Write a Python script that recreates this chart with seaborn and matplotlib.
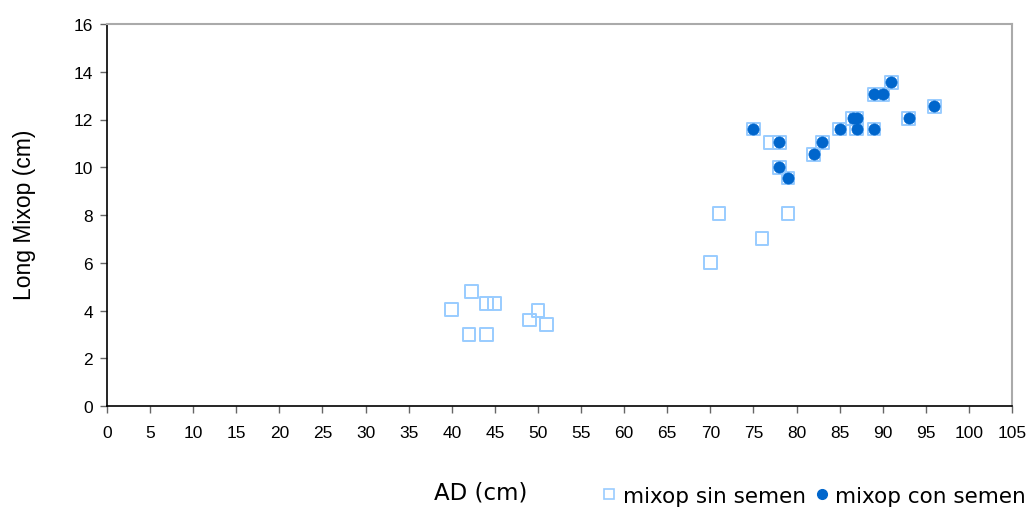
import matplotlib
matplotlib.use("Agg")
import matplotlib.pyplot as plt
import seaborn as sns
import pandas as pd
from matplotlib.lines import Line2D

# Points without seeds (squares only)
sin_x = [40, 42, 42.3, 44, 44, 45, 49, 50, 51, 70, 71, 76, 79, 77]
sin_y = [4.05, 3.0, 4.8, 4.3, 3.0, 4.3, 3.6, 4.0, 3.4, 6.0, 8.05, 7.0, 8.05, 11.05]

# Points with seeds (circles)
con_x = [75, 78, 78, 79, 82, 83, 85, 86.5, 87, 87, 89, 89, 90, 91, 93, 96]
con_y = [11.6, 11.05, 10.0, 9.55, 10.55, 11.05, 11.6, 12.05, 12.05, 11.6, 11.6, 13.05, 13.05, 13.55, 12.05, 12.55]

x_ticks = list(range(0, 106, 5))
y_ticks = list(range(0, 17, 2))

sns.set_theme(style="white")
plt.rcParams['font.family'] = ['Liberation Sans', 'DejaVu Sans']

# Square series covers all points (as in the original chart)
df_sq = pd.DataFrame({"AD": sin_x + con_x, "Long": sin_y + con_y})
df_ci = pd.DataFrame({"AD": con_x, "Long": con_y})

fig = plt.figure(figsize=(10.3, 5.1), dpi=100)
ax = fig.add_axes([107/1030, 1 - 407/510, (1012-107)/1030, (407-25)/510])

sns.scatterplot(data=df_sq, x="AD", y="Long", ax=ax, marker="s", s=85,
                facecolor="none", edgecolor="#99CCFF", linewidth=1.4, zorder=3)
sns.scatterplot(data=df_ci, x="AD", y="Long", ax=ax, marker="o", s=65,
                color="#0066CC", edgecolor="#0066CC", linewidth=0.5, zorder=4)

ax.set_xlim(0, 105)
ax.set_ylim(0, 16)
ax.set_xticks(x_ticks)
ax.set_yticks(y_ticks)
ax.tick_params(axis="both", which="major", direction="out", length=5, width=1,
               color="#666666", labelsize=12.5, labelcolor="black", pad=6)
ax.tick_params(axis="x", bottom=True, pad=9)
ax.tick_params(axis="y", left=True, pad=5)

for side in ["left", "bottom"]:
    ax.spines[side].set_color("black")
    ax.spines[side].set_linewidth(1.2)
for side in ["top", "right"]:
    ax.spines[side].set_color("#AAAAAA")
    ax.spines[side].set_linewidth(1.5)

ax.set_xlabel("")
ax.set_ylabel("")
fig.text(25/1030, 1 - 215/510, "Long Mixop (cm)", ha="center", va="center",
         rotation=90, fontsize=16.5, color="black")

fig.text(481/1030, 1 - 493/510, "AD (cm)", ha="center", va="center",
         fontsize=16.5, color="black", family=["DejaVu Sans"])

handles = [
    Line2D([], [], marker="s", linestyle="none", markersize=7,
           markerfacecolor="none", markeredgecolor="#99CCFF", markeredgewidth=1.2),
    Line2D([], [], marker="o", linestyle="none", markersize=7,
           markerfacecolor="#0066CC", markeredgecolor="#0066CC"),
]
leg = fig.legend(handles, ["mixop sin semen", "mixop con semen"], ncol=2,
                 loc="center", bbox_to_anchor=(813/1030, 1 - 497/510), frameon=False,
                 prop={"family": "DejaVu Sans", "size": 15.5}, handletextpad=0.2,
                 columnspacing=0.25, handlelength=0.9, borderaxespad=0)
for t in leg.get_texts():
    t.set_color("black")

fig.savefig("out.png", dpi=100)
